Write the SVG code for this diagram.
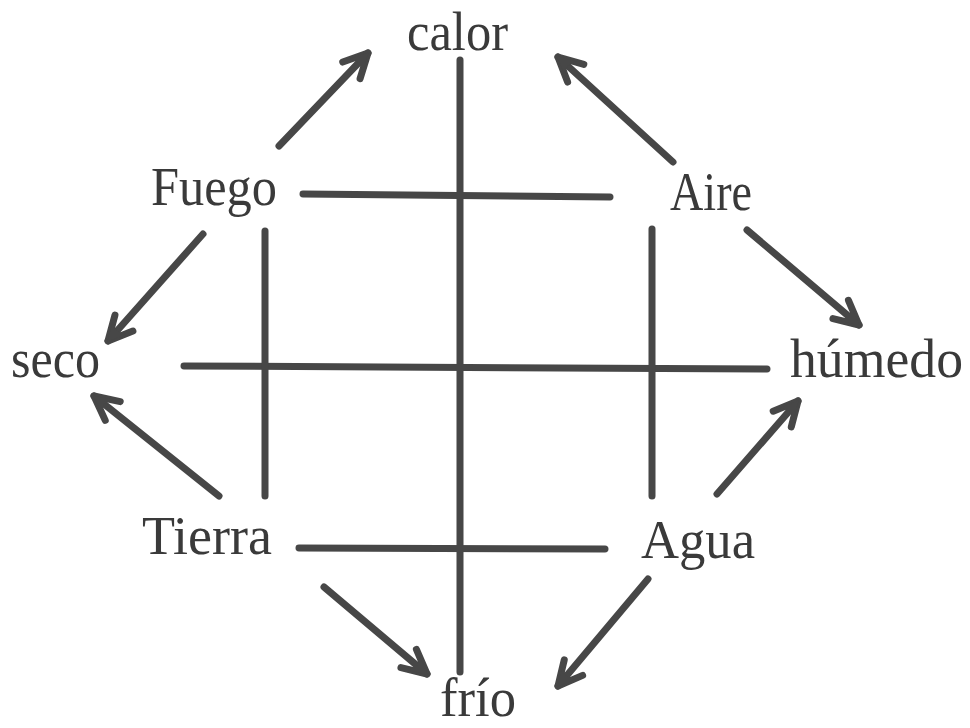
<svg xmlns="http://www.w3.org/2000/svg" width="970" height="728" viewBox="0 0 970 728">
<style>
.lbl{font-family:"Liberation Serif","Times New Roman",serif;font-size:54px;fill:#3a3a3a}
.ln{stroke:#474747;stroke-width:7;stroke-linecap:round;fill:none}
.ar{stroke:#474747;stroke-width:7;stroke-linecap:round;fill:none;marker-end:url(#head)}
</style>
<defs>
<marker id="head" markerUnits="userSpaceOnUse" viewBox="-30 -16 34 32" markerWidth="34" markerHeight="32" refX="0" refY="0" orient="auto">
<path d="M-24,-12 L0,0 L-24,12" fill="none" stroke="#474747" stroke-width="7" stroke-linecap="round" stroke-linejoin="round"/>
<path d="M1,0 L-17,-9 L-13,0 L-17,9 Z" fill="#474747"/>
</marker>
</defs>
<rect width="970" height="728" fill="#ffffff"/>
<g id="connectors">
<line class="ln" x1="460" y1="60" x2="460" y2="672"/>
<line class="ln" x1="303" y1="194" x2="610" y2="197"/>
<line class="ln" x1="184" y1="366" x2="767" y2="369"/>
<line class="ln" x1="299" y1="548" x2="605" y2="549"/>
<line class="ln" x1="265" y1="231" x2="265" y2="496"/>
<line class="ln" x1="652" y1="229" x2="652" y2="496"/>
<line class="ar" x1="279" y1="146" x2="368" y2="53"/>
<line class="ar" x1="673" y1="162" x2="558" y2="57"/>
<line class="ar" x1="203" y1="234" x2="108" y2="341"/>
<line class="ar" x1="219" y1="496" x2="94" y2="396"/>
<line class="ar" x1="747" y1="230" x2="859" y2="325"/>
<line class="ar" x1="717" y1="494" x2="798" y2="401"/>
<line class="ar" x1="324" y1="587" x2="427" y2="674"/>
<line class="ar" x1="648" y1="579" x2="558" y2="686"/>
</g>
<g id="calor"><text class="lbl" x="407" y="50" textLength="101" lengthAdjust="spacingAndGlyphs">calor</text></g>
<g id="fuego"><text class="lbl" x="151" y="205" textLength="126" lengthAdjust="spacingAndGlyphs">Fuego</text></g>
<g id="aire"><text class="lbl" x="670" y="210" textLength="82" lengthAdjust="spacingAndGlyphs">Aire</text></g>
<g id="seco"><text class="lbl" x="11" y="377" textLength="89" lengthAdjust="spacingAndGlyphs">seco</text></g>
<g id="humedo"><text class="lbl" x="790" y="377" textLength="173" lengthAdjust="spacingAndGlyphs">húmedo</text></g>
<g id="tierra"><text class="lbl" x="142" y="554" textLength="130" lengthAdjust="spacingAndGlyphs">Tierra</text></g>
<g id="agua"><text class="lbl" x="641" y="558" textLength="114" lengthAdjust="spacingAndGlyphs">Agua</text></g>
<g id="frio"><text class="lbl" x="440" y="716" textLength="76" lengthAdjust="spacingAndGlyphs">frío</text></g>
</svg>
